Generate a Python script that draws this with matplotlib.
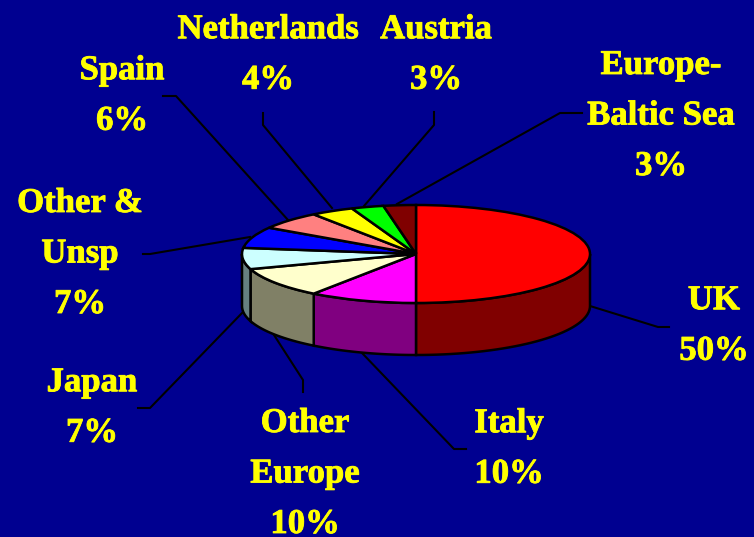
import numpy as np
import matplotlib
matplotlib.use("Agg")
import matplotlib.pyplot as plt
import matplotlib.patheffects as pe
from matplotlib.patches import Polygon

plt.rcParams['font.family'] = ['Liberation Serif', 'DejaVu Serif']

# data
names = ["UK", "Italy", "Other\nEurope", "Japan", "Other &\nUnsp", "Spain",
         "Netherlands", "Austria", "Europe-\nBaltic Sea"]
values = [50, 10, 10, 7, 7, 6, 4, 3, 3]
top_colors = ["#ff0000", "#ff00ff", "#ffffcc", "#ccffff", "#0000ff", "#ff8080",
              "#ffff00", "#00ff00", "#800000"]
side_colors = ["#800000", "#800080", "#808066", "#668080", "#000080", "#804040",
               "#808000", "#008000", "#400000"]

# label centres and leader lines, in pixels of the picture
label_pos = [(714, 326), (509, 449), (305, 474), (92, 408), (80, 254), (122, 96),
             (268, 55), (436, 55), (661, 116)]
leaders = [
    [(590, 306), (658, 327), (669, 327)],
    [(362, 353), (454, 449), (466, 449)],
    [(274, 335), (303, 380), (303, 392)],
    [(243, 312), (150, 408), (138, 408)],
    [(250, 237), (150, 254), (143, 254)],
    [(288, 220), (176, 96), (163, 96)],
    [(332, 208), (263, 125), (263, 113)],
    [(364, 206), (434, 125), (434, 112)],
    [(397, 204), (560, 113), (582, 113)],
]

bg = "#000090"
cx, cy, rx, ry, depth = 416, 254, 174, 49, 52

fig = plt.figure(figsize=(7.54, 5.37), dpi=100, facecolor=bg)

# back layer: text and leader lines in pixel coordinates
ax0 = fig.add_axes([0, 0, 1, 1], zorder=0)
ax0.set_xlim(0, 754)
ax0.set_ylim(537, 0)
ax0.set_facecolor(bg)
ax0.axis("off")

for line in leaders:
    xs = [p[0] for p in line]
    ys = [p[1] for p in line]
    ax0.plot(xs, ys, color="black", lw=1.5)

for name, val, (x, y) in zip(names, values, label_pos):
    ax0.text(x, y, f"{name}\n{val}%", color="#ffff00", fontsize=25, weight="bold",
             ha="center", va="center", linespacing=1.7, clip_on=True,
             path_effects=[pe.withStroke(linewidth=0.6, foreground="#ffff00")])

# pie layer: unit circle squashed into an ellipse
ax = fig.add_axes([0, 0, 1, 1], zorder=1)
ax.patch.set_alpha(0)
wedges, _ = ax.pie(values, colors=top_colors, startangle=90, counterclock=False,
                   wedgeprops=dict(edgecolor="black", linewidth=1.8))
ax.set_aspect("auto")
ax.set_xlim(-cx / rx, (754 - cx) / rx)
ax.set_ylim((cy - 537) / ry, cy / ry)
for w in wedges:
    w.set_zorder(3)

# side wall of the front half
d = depth / ry
ang = 90.0
for val, col in zip(values, side_colors):
    a1 = ang
    a2 = ang - val * 3.6
    ang = a2
    lo = max(a2, -180)
    hi = min(a1, 0)
    if hi <= lo:
        continue
    t = np.radians(np.linspace(lo, hi, 40))
    upper = np.column_stack([np.cos(t), np.sin(t)])
    lower = upper[::-1] - [0, d]
    ax.add_patch(Polygon(np.vstack([upper, lower]), closed=True, facecolor=col,
                         edgecolor="black", linewidth=1.8, zorder=2))

fig.savefig("out.png", dpi=100, facecolor=bg)
